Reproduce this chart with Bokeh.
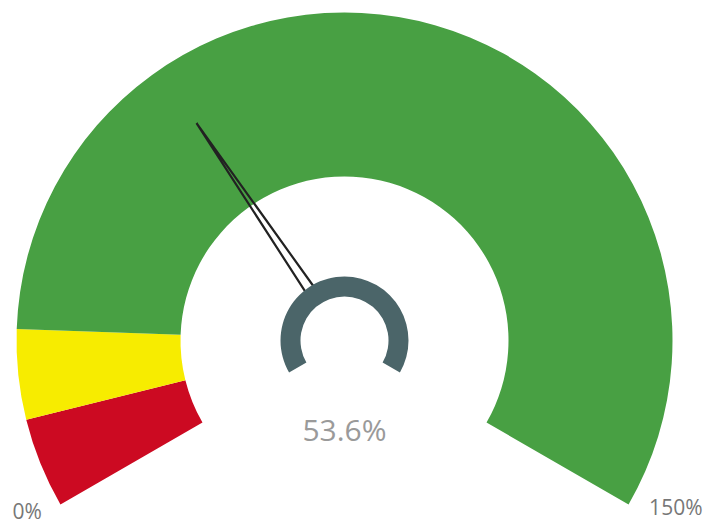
import math
from bokeh.plotting import figure
from bokeh.models import Range1d
from bokeh.core.properties import value as val
from bokeh.embed import file_html
from bokeh.resources import INLINE

# ---- data ----
band_starts = [0, 10, 20]
band_ends = [10, 20, 150]
band_colors = ["#cc0a22", "#f7ec00", "#48a043"]
gauge_min = 0
gauge_max = 150
gauge_value = 53.6
value_label = "53.6%"
min_label = "0%"
max_label = "150%"

# ---- layout (pixel-like data units, y up) ----
W, H = 703, 525
cx, cy = 344, 185          # gauge centre
R_out, R_in = 328, 164
START_DEG, SWEEP_DEG = 210.0, 240.0


def ang(v):
    return math.radians(START_DEG - (v - gauge_min) / (gauge_max - gauge_min) * SWEEP_DEG)


p = figure(width=W, height=H, output_backend="svg", toolbar_location=None,
           x_range=Range1d(0, W), y_range=Range1d(0, H), min_border=0,
           outline_line_color=None, background_fill_color="white")
p.axis.visible = False
p.grid.visible = False

# bands
p.annular_wedge(x=[cx] * len(band_starts), y=[cy] * len(band_starts),
                inner_radius=R_in, outer_radius=R_out,
                start_angle=[ang(e) for e in band_ends],
                end_angle=[ang(s) for s in band_starts],
                fill_color=band_colors, line_color=None)

# needle
a = ang(gauge_value)
tip_r, base_r, half_w = 263, 58, 5
tx, ty = cx + tip_r * math.cos(a), cy + tip_r * math.sin(a)
bx, by = cx + base_r * math.cos(a), cy + base_r * math.sin(a)
px, py = -math.sin(a), math.cos(a)
p.patch(x=[bx + half_w * px, tx, bx - half_w * px],
        y=[by + half_w * py, ty, by - half_w * py],
        fill_alpha=0, line_color="#222222", line_width=2.2)

# hub ring
p.annular_wedge(x=[cx], y=[cy], inner_radius=44, outer_radius=64,
                start_angle=ang(gauge_max), end_angle=ang(gauge_min),
                fill_color="#4b6569", line_color=None)

# texts
p.text(x=[cx], y=[cy - 89], text=[value_label], text_align="center",
       text_baseline="middle", text_font=val("Open Sans"),
       text_font_size="30px", text_color="#9a9a9a")
p.text(x=[12], y=[1], text=[min_label], text_align="left",
       text_baseline="bottom", text_font=val("Open Sans"),
       text_font_size="21px", text_color="#777777")
p.text(x=[W - 1], y=[5], text=[max_label], text_align="right",
       text_baseline="bottom", text_font=val("Open Sans"),
       text_font_size="21px", text_color="#777777")

open("out.html", "w").write(file_html(p, INLINE))
